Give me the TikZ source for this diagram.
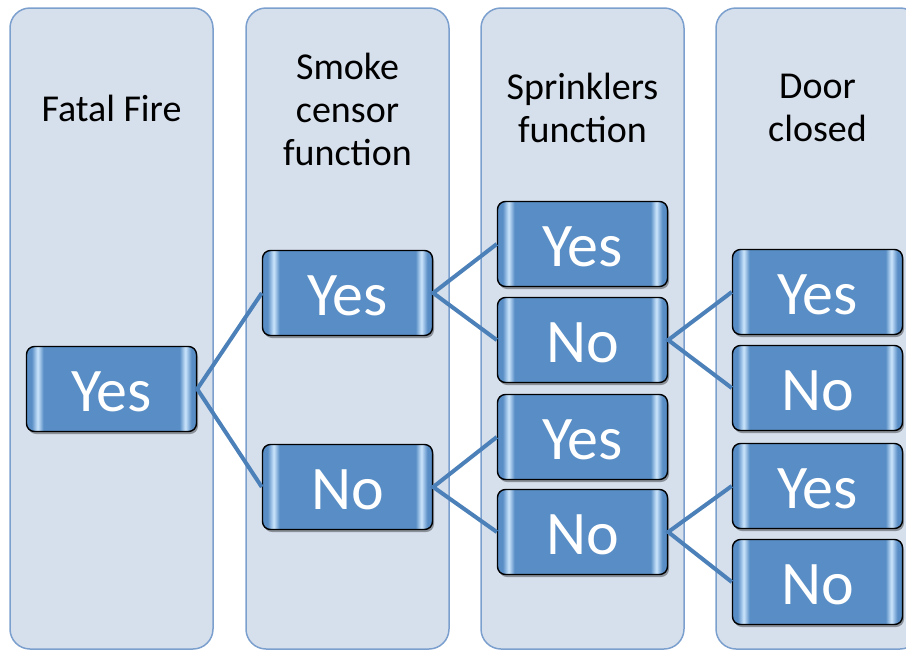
\documentclass[tikz,border=0pt]{standalone}
\usepackage{fontspec}
\setmainfont{Carlito}
\usetikzlibrary{shadows}
\definecolor{colfill}{RGB}{214,223,236}
\definecolor{colline}{RGB}{124,160,206}
\definecolor{nodeblue}{RGB}{88,141,197}
\definecolor{glint}{RGB}{205,230,252}
\definecolor{linkblue}{RGB}{76,128,184}
\pgfdeclarehorizontalshading{glossy}{100bp}{color(0bp)=(nodeblue); color(26.5bp)=(nodeblue); color(28.3bp)=(glint); color(30bp)=(nodeblue); color(70bp)=(nodeblue); color(71.7bp)=(glint); color(73.5bp)=(nodeblue); color(100bp)=(nodeblue)}
\newcommand{\lowtext}[1]{\raisebox{-3pt}[\height][0pt]{#1}}
\tikzset{
  column/.style={draw=colline, line width=1.5pt, fill=colfill, rounded corners=20pt},
  header/.style={align=center, font=\fontsize{38}{43}\selectfont, text=black},
  choice/.style={draw=black, line width=1.4pt, rounded corners=8pt, shading=glossy,
    minimum width=170pt, minimum height=85pt, inner sep=0pt, text=white,
    font=\fontsize{62}{64}\selectfont,
    drop shadow={shadow xshift=1.5pt, shadow yshift=-2.5pt, opacity=0.35, fill=black}},
  link/.style={draw=linkblue, line width=4pt}
}
\begin{document}
\begin{tikzpicture}[x=1pt,y=-1pt]
\useasboundingbox (0,0) rectangle (906,651);
\clip (0,0) rectangle (906,651);
% columns
\draw[column] (10,8) rectangle (213,649);
\draw[column] (246,8) rectangle (449,649);
\draw[column] (481,8) rectangle (684,649);
\draw[column] (716,8) rectangle (920,649);
% headers
\node[header] (h1) at (111.5,108) {Fatal Fire};
\node[header] (h2) at (347.5,109) {Smoke\\censor\\function};
\node[header] (h3) at (582.5,108) {Sprinklers\\function};
\node[header] (h4) at (817.5,108) {Door\\closed};
% nodes
\node[choice] (a) at (111.5,389) {\lowtext{Yes}};
\node[choice] (b1) at (347.5,293) {\lowtext{Yes}};
\node[choice] (b2) at (347.5,487) {\lowtext{No}};
\node[choice] (c1) at (582.5,244) {\lowtext{Yes}};
\node[choice] (c2) at (582.5,340) {\lowtext{No}};
\node[choice] (c3) at (582.5,437) {\lowtext{Yes}};
\node[choice] (c4) at (582.5,532) {\lowtext{No}};
\node[choice] (d1) at (817.5,292) {\lowtext{Yes}};
\node[choice] (d2) at (817.5,388) {\lowtext{No}};
\node[choice] (d3) at (817.5,486) {\lowtext{Yes}};
\node[choice] (d4) at (817.5,582) {\lowtext{No}};
% connectors
\draw[link] (b1.west) -- (a.east) -- (b2.west);
\draw[link] (c1.west) -- (b1.east) -- (c2.west);
\draw[link] (c3.west) -- (b2.east) -- (c4.west);
\draw[link] (d1.west) -- (c2.east) -- (d2.west);
\draw[link] (d3.west) -- (c4.east) -- (d4.west);
\end{tikzpicture}
\end{document}
